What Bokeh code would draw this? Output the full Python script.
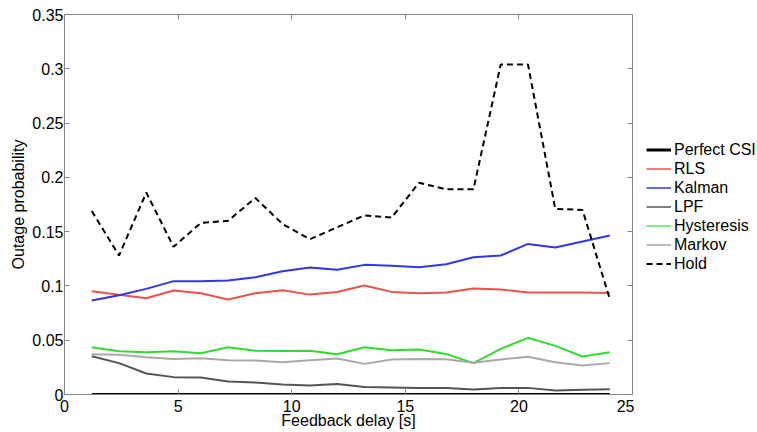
from bokeh.plotting import figure
from bokeh.layouts import row
from bokeh.models import (ColumnDataSource, Legend, LegendItem, LinearAxis, FixedTicker,
                          Range1d, CustomJSTickFormatter)
from bokeh.embed import file_html
from bokeh.resources import INLINE

delay = [1.2, 2.4, 3.6, 4.8, 6.0, 7.2, 8.4, 9.6, 10.8, 12.0,
         13.2, 14.4, 15.6, 16.8, 18.0, 19.2, 20.4, 21.6, 22.8, 24.0]

perfect_csi = [0.0] * 20
rls = [0.0951, 0.0918, 0.0887, 0.0958, 0.0933, 0.0875, 0.0933, 0.0960, 0.0920, 0.0944,
       0.1004, 0.0945, 0.0933, 0.0940, 0.0976, 0.0967, 0.0940, 0.0940, 0.0940, 0.0936]
kalman = [0.0866, 0.0915, 0.0973, 0.1044, 0.1044, 0.1050, 0.1080, 0.1136, 0.1170, 0.1150,
          0.1194, 0.1185, 0.1172, 0.1200, 0.1265, 0.1280, 0.1387, 0.1354, 0.1409, 0.1464]
lpf = [0.0353, 0.0289, 0.0193, 0.0160, 0.0157, 0.0120, 0.0110, 0.0092, 0.0083, 0.0096,
       0.0068, 0.0065, 0.0059, 0.0059, 0.0046, 0.0061, 0.0061, 0.0037, 0.0043, 0.0049]
hysteresis = [0.0436, 0.0399, 0.0390, 0.0399, 0.0380, 0.0436, 0.0402, 0.0400, 0.0402, 0.0370,
              0.0436, 0.0408, 0.0414, 0.0374, 0.0289, 0.0420, 0.0522, 0.0448, 0.0350, 0.0390]
markov = [0.0371, 0.0365, 0.0344, 0.0328, 0.0334, 0.0316, 0.0313, 0.0298, 0.0316, 0.0331,
          0.0282, 0.0322, 0.0328, 0.0325, 0.0292, 0.0322, 0.0347, 0.0298, 0.0267, 0.0289]
hold = [0.169, 0.128, 0.186, 0.136, 0.158, 0.160, 0.181, 0.157, 0.143, 0.154,
        0.165, 0.163, 0.195, 0.189, 0.189, 0.304, 0.304, 0.171, 0.170, 0.088]

x_ticks = [0, 5, 10, 15, 20, 25]
y_ticks = [0, 0.05, 0.1, 0.15, 0.2, 0.25, 0.3, 0.35]
y_tick_labels = ["0", "0.05", "0.1", "0.15", "0.2", "0.25", "0.3", "0.35"]

FONT = "Liberation Sans"
AXIS_GRAY = "#858585"

src = ColumnDataSource(dict(delay=delay, perfect_csi=perfect_csi, rls=rls, kalman=kalman,
                            lpf=lpf, hysteresis=hysteresis, markov=markov, hold=hold))

p = figure(width=634, height=432, output_backend="svg", toolbar_location=None,
           x_range=Range1d(0, 25), y_range=Range1d(0, 0.35),
           min_border_left=64, min_border_right=2, min_border_top=14, min_border_bottom=38)
p.background_fill_color = "white"
p.border_fill_color = "white"
p.outline_line_color = None
p.xgrid.visible = False
p.ygrid.visible = False

# name, column, colour, plot width, legend width, dash
series = [
    ("Perfect CSI", "perfect_csi", "black", 3, 3, "solid"),
    ("RLS", "rls", "#e9554c", 2, 1.5, "solid"),
    ("Kalman", "kalman", "#3434ee", 2, 1.5, "solid"),
    ("LPF", "lpf", "#555555", 2, 1.5, "solid"),
    ("Hysteresis", "hysteresis", "#2fdc2f", 2, 1.2, "solid"),
    ("Markov", "markov", "#a9a9a9", 2, 1.5, "solid"),
    ("Hold", "hold", "black", 2, 2, "6 4"),
]

for name, col, color, w, lw, dash in series:
    p.line("delay", col, source=src, line_color=color, line_width=w, line_dash=dash)

def style_axis(ax):
    ax.axis_line_color = AXIS_GRAY
    ax.major_tick_line_color = AXIS_GRAY
    ax.major_tick_in = 5
    ax.major_tick_out = 0
    ax.minor_tick_line_color = None
    ax.major_label_text_font = FONT
    ax.major_label_text_font_size = "16px"
    ax.major_label_text_color = "black"
    ax.axis_label_text_font = FONT
    ax.axis_label_text_font_size = "16px"
    ax.axis_label_text_font_style = "normal"
    ax.axis_label_text_color = "black"

xa = p.xaxis[0]
xa.ticker = FixedTicker(ticks=x_ticks)
style_axis(xa)
xa.axis_label = "Feedback delay [s]"
xa.major_label_standoff = 5
xa.axis_label_standoff = -3

ya = p.yaxis[0]
ya.ticker = FixedTicker(ticks=y_ticks)
ya.major_label_overrides = {t: s for t, s in zip(y_ticks, y_tick_labels)}
style_axis(ya)
ya.axis_label = "Outage probability"
ya.major_label_standoff = 1
ya.axis_label_standoff = 2

blank = CustomJSTickFormatter(code="return ''")

top = LinearAxis(ticker=FixedTicker(ticks=x_ticks), formatter=blank)
style_axis(top)
top.major_label_standoff = 0
p.add_layout(top, "above")

right = LinearAxis(ticker=FixedTicker(ticks=y_ticks), formatter=blank)
style_axis(right)
right.major_label_standoff = 0
p.add_layout(right, "right")

# legend panel (separate figure to the right of the plot); its lines use the
# same data but lie outside this panel's view, so only the legend shows
lg = figure(width=123, height=432, output_backend="svg", toolbar_location=None,
            x_range=Range1d(100, 101), y_range=Range1d(0, 1),
            min_border_left=0, min_border_right=0, min_border_top=0, min_border_bottom=0)
lg.axis.visible = False
lg.xgrid.visible = False
lg.ygrid.visible = False
lg.outline_line_color = None
lg.background_fill_color = "white"
lg.border_fill_color = "white"

items = []
for name, col, color, w, lw, dash in series:
    r = lg.line("delay", col, source=src, line_color=color, line_width=lw, line_dash=dash)
    items.append(LegendItem(label=name, renderers=[r]))

legend = Legend(items=items, location=(12, 121))
legend.border_line_color = None
legend.background_fill_alpha = 0
legend.label_text_font = FONT
legend.label_text_font_size = "16px"
legend.label_text_color = "black"
legend.glyph_width = 25
legend.glyph_height = 19
legend.label_height = 19
legend.label_standoff = 3
legend.spacing = 0
legend.padding = 0
legend.margin = 0
lg.add_layout(legend, "center")

layout = row(p, lg, spacing=0)
open("out.html", "w").write(file_html(layout, INLINE))
